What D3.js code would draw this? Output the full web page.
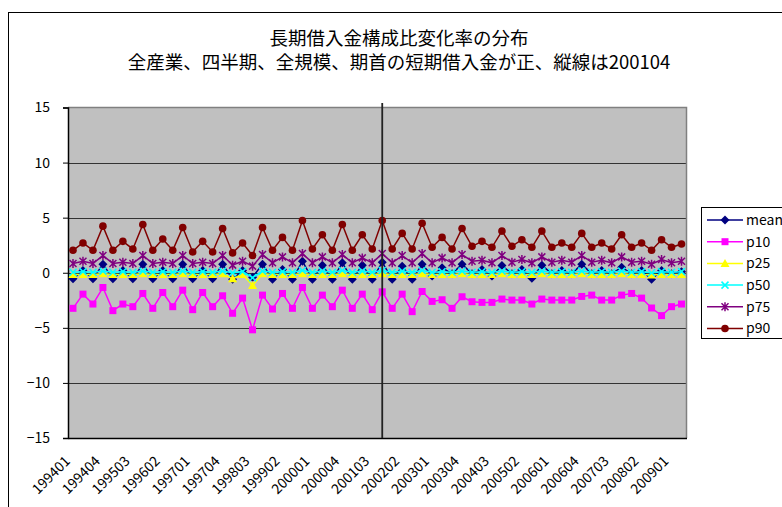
<!DOCTYPE html>
<html>
<head>
<meta charset="utf-8">
<script src="https://cdn.jsdelivr.net/npm/d3@7"></script>
<style>
body { margin: 0; background: #fff; }
svg { display: block; }
</style>
</head>
<body>
<div id="chart"></div>
<script>
var periods = ["199401", "199402", "199403", "199404", "199501", "199502", "199503", "199504",
    "199601", "199602", "199603", "199604", "199701", "199702", "199703", "199704",
    "199801", "199802", "199803", "199804", "199901", "199902", "199903", "199904",
    "200001", "200002", "200003", "200004", "200101", "200102", "200103", "200104",
    "200201", "200202", "200203", "200204", "200301", "200302", "200303", "200304",
    "200401", "200402", "200403", "200404", "200501", "200502", "200503", "200504",
    "200601", "200602", "200603", "200604", "200701", "200702", "200703", "200704",
    "200801", "200802", "200803", "200804", "200901", "200902"];

var tickLabels = ["199401", "199404", "199503", "199602", "199701", "199704", "199803",
    "199902", "200001", "200004", "200103", "200202", "200301", "200304", "200403",
    "200502", "200601", "200604", "200703", "200802", "200901"];

var yTicks = [-15, -10, -5, 0, 5, 10, 15];

var splitPeriod = "200104";

var meanValues = [-0.55, 0.2, -0.55, 0.78, -0.55, 0.2, -0.55, 0.78, -0.55, 0.2, -0.55, 0.78,
    -0.55, 0.2, -0.55, 0.78, -0.6, 0.2, -0.4, 0.78, -0.6, 0.3, -0.6, 1.05,
    -0.6, 0.69, -0.6, 0.9, -0.6, 0.69, -0.6, 0.96, -0.6, 0.6, -0.6, 0.78,
    -0.3, 0.45, -0.1, 0.78, -0.1, 0.3, -0.3, 0.66, -0.1, 0.3, -0.5, 0.69,
    -0.1, 0.2, -0.1, 0.78, -0.1, 0.2, -0.1, 0.51, -0.1, 0.2, -0.6, 0.2, -0.1, 0.1];

var p10Values = [-3.23, -1.94, -2.84, -1.34, -3.44, -2.84, -3.08, -1.88, -3.23, -1.79, -3.08, -1.58,
    -3.35, -1.79, -3.08, -2.09, -3.68, -2.3, -5.18, -2.03, -3.29, -1.88, -3.23, -1.34,
    -3.23, -2.03, -3.08, -1.58, -3.23, -1.94, -3.35, -1.73, -3.23, -1.94, -3.53, -1.7,
    -2.6, -2.45, -3.23, -2.18, -2.63, -2.69, -2.69, -2.39, -2.48, -2.48, -2.84, -2.39,
    -2.48, -2.48, -2.48, -2.15, -2.03, -2.48, -2.48, -2.03, -1.88, -2.3, -3.2, -3.89, -3.08, -2.84];

var p25Values = [-0.15, -0.15, -0.15, -0.1, -0.15, -0.15, -0.15, -0.1, -0.15, -0.15, -0.15, -0.1,
    -0.15, -0.15, -0.15, -0.1, -0.55, -0.15, -1.15, -0.1, -0.15, -0.15, -0.15, -0.1,
    -0.15, -0.15, -0.15, -0.1, -0.15, -0.15, -0.15, -0.1, -0.15, -0.15, -0.15, -0.1,
    -0.15, -0.15, -0.15, -0.1, -0.15, -0.15, -0.15, -0.1, -0.15, -0.15, -0.15, -0.1,
    -0.15, -0.15, -0.15, -0.1, -0.15, -0.15, -0.15, -0.1, -0.15, -0.15, -0.2, -0.15, -0.15, -0.15];

var p50Values = [0.05, 0.1, 0.05, 0.15, 0.05, 0.1, 0.05, 0.15, 0.05, 0.1, 0.05, 0.15,
    0.05, 0.1, 0.05, 0.15, 0.0, 0.1, -0.45, 0.15, 0.05, 0.1, 0.05, 0.2,
    0.05, 0.15, 0.05, 0.2, 0.05, 0.15, 0.05, 0.2, 0.05, 0.15, 0.05, 0.2,
    0.05, 0.1, 0.05, 0.15, 0.05, 0.1, 0.05, 0.15, 0.05, 0.1, 0.05, 0.15,
    0.05, 0.1, 0.05, 0.15, 0.05, 0.1, 0.05, 0.15, 0.05, 0.1, 0.0, 0.1, 0.05, 0.1];

var p75Values = [0.84, 1.05, 0.84, 1.56, 0.84, 0.96, 0.84, 1.56, 0.84, 0.96, 0.84, 1.56,
    0.84, 0.96, 0.84, 1.56, 0.69, 1.05, 0.6, 1.65, 0.9, 1.44, 0.9, 1.74,
    0.9, 1.44, 0.9, 1.65, 0.9, 1.35, 0.9, 1.74, 0.9, 1.56, 0.9, 1.74,
    0.9, 1.35, 0.9, 1.65, 1.05, 1.14, 0.9, 1.56, 0.96, 1.2, 0.9, 1.44,
    0.96, 1.14, 0.96, 1.56, 0.96, 1.14, 0.9, 1.44, 0.96, 1.05, 0.78, 1.2, 0.9, 1.05];

var p90Values = [2.04, 2.7, 2.04, 4.23, 2.04, 2.85, 2.16, 4.38, 2.04, 3.06, 2.04, 4.11,
    1.89, 2.85, 1.89, 4.02, 1.8, 2.7, 1.56, 4.11, 2.04, 3.21, 2.04, 4.74,
    2.16, 3.45, 2.04, 4.38, 2.04, 3.45, 2.16, 4.74, 2.16, 3.57, 2.16, 4.5,
    2.31, 3.21, 2.16, 4.02, 2.4, 2.85, 2.31, 3.78, 2.4, 3.0, 2.31, 3.78,
    2.31, 2.7, 2.31, 3.57, 2.31, 2.7, 2.16, 3.45, 2.31, 2.7, 2.04, 3.0, 2.31, 2.61];

var seriesNames = ["mean", "p10", "p25", "p50", "p75", "p90"];
var seriesValues = [meanValues, p10Values, p25Values, p50Values, p75Values, p90Values];
var seriesColors = ["#000080", "#ff00ff", "#ffff00", "#00ffff", "#800080", "#800000"];
var seriesMarkers = ["diamond", "square", "triangle", "cross", "star", "circle"];

var w = 782;
var h = 507;
// plot area edges (note: "top" is reserved on window, so prefixed names)
var plotLeft = 68, plotRight = 686.5, plotTop = 107.5, plotBottom = 438;
var font = "'Noto Sans CJK JP', sans-serif";

var svg = d3.select("#chart").append("svg").attr("width", w).attr("height", h);

// chart area border (runs off the picture on the right and bottom)
svg.append("rect")
    .attr("x", 8.5).attr("y", 12.5)
    .attr("width", 820).attr("height", 520)
    .attr("fill", "#fff").attr("stroke", "#000").attr("stroke-width", 1);

// title
var title = svg.append("g").attr("font-family", font)
    .attr("font-size", "18.5px").attr("text-anchor", "middle").attr("fill", "#000");
title.append("text").attr("x", 399).attr("y", 45).text("長期借入金構成比変化率の分布");
title.append("text").attr("x", 399).attr("y", 69).text("全産業、四半期、全規模、期首の短期借入金が正、縦線は200104");

var xScale = d3.scaleBand().domain(periods).range([plotLeft, plotRight]);
var yScale = d3.scaleLinear().domain([-15, 15]).range([plotBottom, plotTop]);
function cx(p) { return xScale(p) + xScale.bandwidth() / 2; }

// plot area
svg.append("rect")
    .attr("x", plotLeft).attr("y", plotTop)
    .attr("width", plotRight - plotLeft).attr("height", plotBottom - plotTop)
    .attr("fill", "#c0c0c0");

svg.append("g").selectAll("line")
    .data(yTicks.filter(function (d) { return d > -15 && d < 15; }))
    .enter().append("line")
    .attr("x1", plotLeft).attr("x2", plotRight)
    .attr("y1", function (d) { return Math.round(yScale(d)) + 0.5; })
    .attr("y2", function (d) { return Math.round(yScale(d)) + 0.5; })
    .attr("stroke", "#333").attr("stroke-width", 1);

// top and right border of the plot
svg.append("path")
    .attr("d", "M" + plotLeft + "," + plotTop + "H" + plotRight + "V" + plotBottom)
    .attr("fill", "none").attr("stroke", "#808080").attr("stroke-width", 1.5);

// y axis
var yAxis = d3.axisLeft(yScale).tickValues(yTicks).tickSize(5).tickPadding(13)
    .tickFormat(function (d) { return d < 0 ? "\u2212" + Math.abs(d) : d; });
var gy = svg.append("g").attr("transform", "translate(" + plotLeft + ",0)").call(yAxis);
gy.select(".domain").attr("stroke", "#000").attr("stroke-width", 1.5);
gy.selectAll(".tick line").attr("stroke", "#000");
gy.selectAll("text").attr("font-family", font)
    .attr("font-size", "14px").attr("fill", "#000");

// x axis
var xAxis = d3.axisBottom(xScale).tickValues(tickLabels).tickSize(0).tickSizeOuter(0);
var gx = svg.append("g").attr("transform", "translate(0," + plotBottom + ")").call(xAxis);
gx.select(".domain").attr("stroke", "#000").attr("stroke-width", 1.5);
gx.selectAll("text")
    .attr("font-family", font)
    .attr("font-size", "14px").attr("fill", "#000")
    .attr("text-anchor", "end")
    .attr("x", 0).attr("y", 0).attr("dy", 0)
    .attr("transform", "translate(-2,24) rotate(-45)");

// marker shapes
function markerPath(type) {
    if (type == "diamond") return "M0,-4.5L4.5,0L0,4.5L-4.5,0Z";
    if (type == "square") return "M-3.5,-3.5H3.5V3.5H-3.5Z";
    if (type == "triangle") return "M0,-4.5L4.5,3.5L-4.5,3.5Z";
    if (type == "cross") return "M-3.5,-3.5L3.5,3.5M3.5,-3.5L-3.5,3.5";
    if (type == "star") return "M-3.5,-3.5L3.5,3.5M3.5,-3.5L-3.5,3.5M0,-4.5V4.5";
    return null;
}

function drawMarker(g, type, color) {
    if (type == "circle") {
        g.append("circle").attr("r", 3.8).attr("fill", color);
    } else if (type == "cross" || type == "star") {
        g.append("path").attr("d", markerPath(type)).attr("fill", "none")
            .attr("stroke", color).attr("stroke-width", 1.5);
    } else {
        g.append("path").attr("d", markerPath(type)).attr("fill", color);
    }
}

var line = d3.line()
    .x(function (d, i) { return cx(periods[i]); })
    .y(function (d) { return yScale(d); });

for (var s = 0; s < seriesNames.length; s++) {
    var g = svg.append("g");
    g.append("path")
        .attr("d", line(seriesValues[s]))
        .attr("fill", "none")
        .attr("stroke", seriesColors[s])
        .attr("stroke-width", 1.5);
    var pts = g.selectAll("g.pt").data(seriesValues[s]).enter().append("g")
        .attr("class", "pt")
        .attr("transform", function (d, i) {
            return "translate(" + cx(periods[i]) + "," + yScale(d) + ")";
        });
    var type = seriesMarkers[s];
    var color = seriesColors[s];
    pts.each(function () { drawMarker(d3.select(this), type, color); });
}

// vertical marker line at 200104
svg.append("line")
    .attr("x1", cx(splitPeriod)).attr("x2", cx(splitPeriod))
    .attr("y1", 103).attr("y2", plotBottom)
    .attr("stroke", "#222").attr("stroke-width", 1.8);

// legend
var legend = svg.append("g");
legend.append("rect")
    .attr("x", 701.5).attr("y", 207.5)
    .attr("width", 100).attr("height", 131)
    .attr("fill", "#fff").attr("stroke", "#000").attr("stroke-width", 1);

var items = legend.selectAll("g.item").data(seriesNames).enter().append("g")
    .attr("class", "item")
    .attr("transform", function (d, i) { return "translate(0," + (220 + i * 21.7) + ")"; });

items.append("line")
    .attr("x1", 707).attr("x2", 743)
    .attr("stroke", function (d, i) { return seriesColors[i]; })
    .attr("stroke-width", 1.5);

items.each(function (d, i) {
    var mg = d3.select(this).append("g").attr("transform", "translate(725,0)");
    drawMarker(mg, seriesMarkers[i], seriesColors[i]);
});

items.append("text")
    .attr("x", 746).attr("y", 0).attr("dy", "0.35em")
    .attr("font-family", font)
    .attr("font-size", "14px").attr("fill", "#000")
    .text(function (d) { return d; });
</script>
</body>
</html>
